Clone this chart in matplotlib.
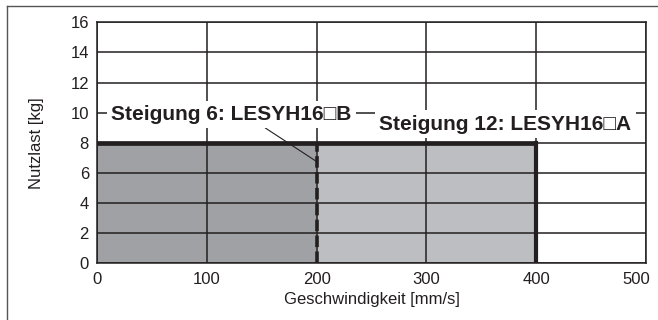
import matplotlib
matplotlib.use("Agg")
from matplotlib import pyplot as plt
from matplotlib.lines import Line2D
from matplotlib.transforms import ScaledTranslation

plt.rcParams['font.family'] = ['Liberation Sans', 'DejaVu Sans']

# data
models = ['Steigung 6: LESYH16\u25a1B', 'Steigung 12: LESYH16\u25a1A']
speed_start = [0, 200]
speed_max = [200, 400]
payload = [8, 8]
fill_colors = ['#a0a1a4', '#bdbec1']
x_ticks = [0, 100, 200, 300, 400, 500]
y_ticks = [0, 2, 4, 6, 8, 10, 12, 14, 16]

dark = '#231f20'

fig = plt.figure(figsize=(6.58, 3.2), dpi=100)
ax = fig.add_axes([0.1479, 0.1766, 0.8334, 0.7537])

# frame around the picture (top and left only visible)
fig.add_artist(Line2D([7 / 658, 1], [1 - 6 / 320, 1 - 6 / 320], transform=fig.transFigure,
                      color='#555555', lw=1))
fig.add_artist(Line2D([7 / 658, 7 / 658], [0, 1 - 6 / 320], transform=fig.transFigure,
                      color='#555555', lw=1))

# gray areas
for s, e, p, c in zip(speed_start, speed_max, payload, fill_colors):
    ax.bar(s, p, width=e - s, align='edge', color=c, edgecolor='none', zorder=1)

ax.set_xlim(0, 500)
ax.set_ylim(0, 16)
ax.set_xticks(x_ticks)
ax.set_yticks(y_ticks)
ax.grid(True, color=dark, lw=1.1, zorder=2)
ax.set_axisbelow(False)
for sp in ax.spines.values():
    sp.set_color(dark)
    sp.set_linewidth(1.1)
ax.tick_params(length=0, pad=6, labelsize=12, colors=dark)

# last x label sits a bit left so it stays inside the picture
last = ax.get_xticklabels()[-1]
last.set_transform(last.get_transform() + ScaledTranslation(-9 / 100, 0, fig.dpi_scale_trans))

# limit lines
ax.plot([0, speed_max[1]], [payload[0], payload[1]], color=dark, lw=3.4, zorder=4,
        solid_capstyle='butt')
ax.plot([speed_max[0], speed_max[0]], [0, payload[0]], color=dark, lw=2.6, zorder=4,
        linestyle=(0, (3.2, 1.2)))
ax.plot([speed_max[1], speed_max[1]], [0, payload[1]], color=dark, lw=3.0, zorder=4)

box = dict(boxstyle='square,pad=0.2', fc='white', ec='none')
ax.annotate(models[0], xy=(speed_max[0], 6.76), xytext=(12.5, 9.9),
            ha='left', va='center', fontsize=15, fontweight='bold', color=dark,
            bbox=box, zorder=5,
            arrowprops=dict(arrowstyle='-', color=dark, lw=0.8,
                            relpos=(0.615, 0.0), shrinkA=0, shrinkB=0))
ax.text(372, 9.25, models[1], ha='center', va='center', fontsize=15,
        fontweight='bold', color=dark, bbox=box, zorder=5)

ax.set_xlabel('Geschwindigkeit [mm/s]', fontsize=12, color=dark, labelpad=4)
ax.set_ylabel('Nutzlast [kg]', fontsize=12, color=dark, labelpad=19)

fig.savefig('out.png', dpi=100)
